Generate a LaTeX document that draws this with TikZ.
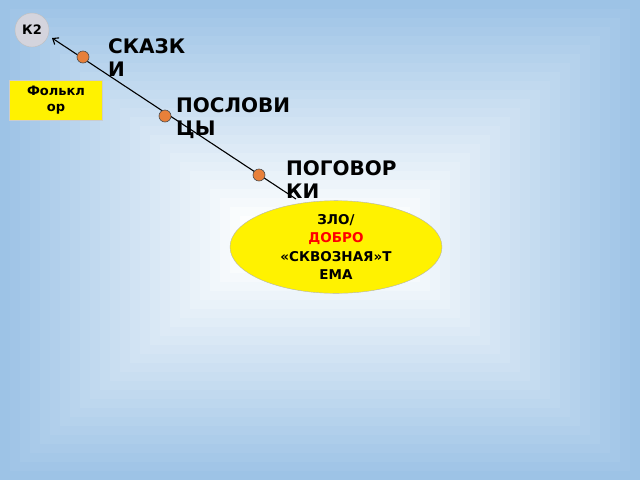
\documentclass[tikz,border=0pt]{standalone}
\usepackage{fontspec}
\setmainfont{DejaVu Sans}
\usetikzlibrary{shapes.geometric,arrows.meta}
\definecolor{bgblue}{HTML}{9DC3E6}
\definecolor{dotor}{HTML}{E8803A}
\tikzset{
  dot/.style={circle,fill=dotor,draw=black!70,line width=0.6pt,inner sep=0,minimum size=12pt},
  lbl/.style={anchor=north west,align=left,font=\bfseries\fontsize{20}{23}\selectfont,inner sep=0},
}
\begin{document}
\begin{tikzpicture}[x=1pt,y=-1pt]
\useasboundingbox (0,0) rectangle (640,480);
\fill[bgblue] (0,0) rectangle (640,480);
\foreach \i in {1,...,24}{
  \pgfmathsetmacro\p{100-\i*4.1}
  \fill[bgblue!\p!white] (\i*10,\i*9) rectangle (640-\i*10,480-\i*9);
}
\node[circle,fill=blue!12!gray!30,draw=gray!50,minimum size=34pt,inner sep=0,font=\bfseries\fontsize{13}{15}\selectfont] (k2) at (32,30) {К2};
\node[fill=yellow,draw=gray!40,minimum width=93pt,minimum height=40pt,align=center,inner sep=0,font=\bfseries\fontsize{13}{16}\selectfont] (f) at (56,100) {Фолькл\\ор};
\node[ellipse,fill=yellow,draw=gray!60,minimum width=212pt,minimum height=90pt,inner sep=0,align=center,font=\bfseries\fontsize{13.5}{18.5}\selectfont] (e) at (336,247) {ЗЛО/\\\textcolor{red}{ДОБРО}\\«СКВОЗНАЯ»Т\\ЕМА};
\coordinate (s) at (52,38);
\coordinate (t) at (296,199);
\draw[-{Straight Barb[length=5pt,width=8pt]},line width=1.1pt] (t) -- (s);
\node[dot] (d1) at (83,57) {};
\node[dot] (d2) at (165,116) {};
\node[dot] (d3) at (259,175) {};
\node[lbl] (l1) at (108,38) {СКАЗК\\И};
\node[lbl] (l2) at (176,97) {ПОСЛОВИ\\ЦЫ};
\node[lbl] (l3) at (286,160) {ПОГОВОР\\КИ};
\end{tikzpicture}
\end{document}
